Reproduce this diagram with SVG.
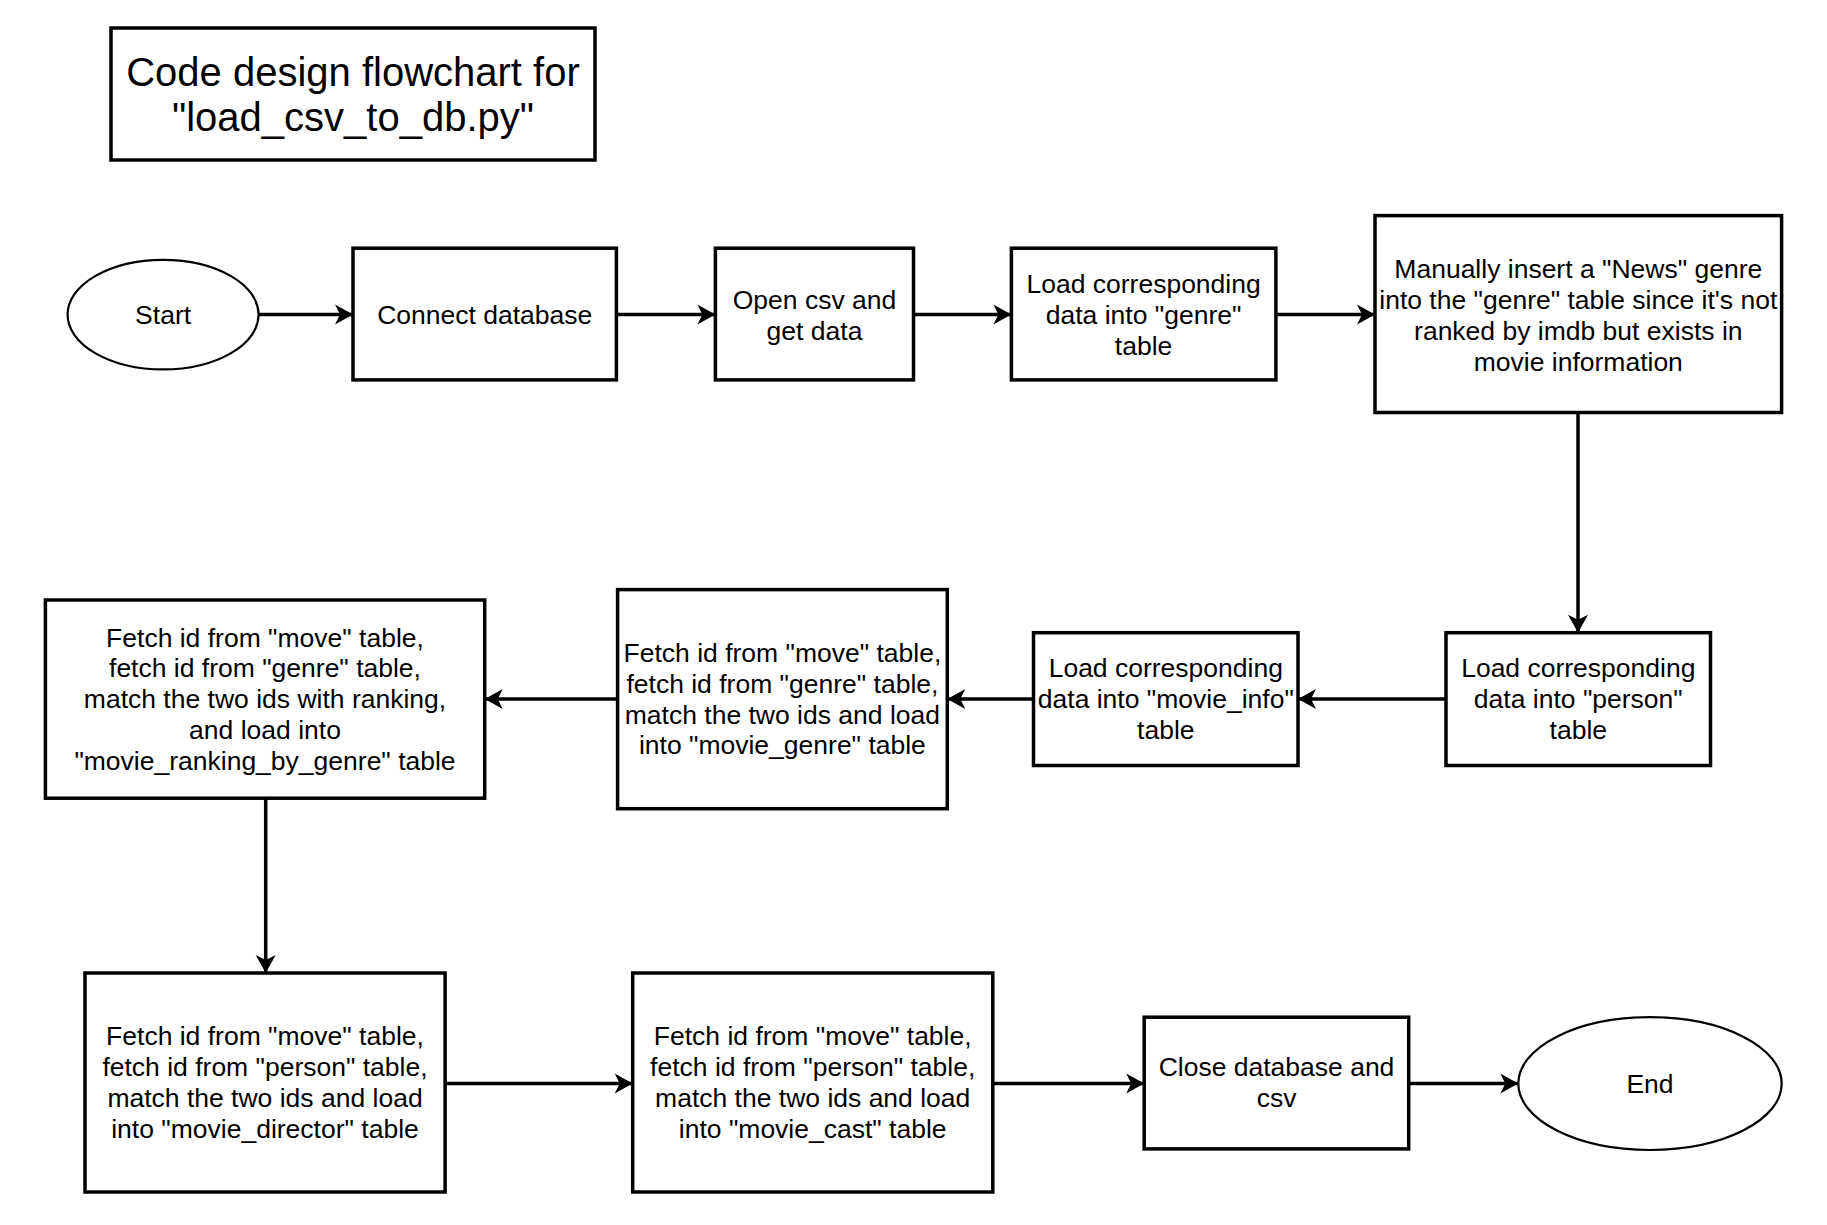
<svg xmlns="http://www.w3.org/2000/svg" width="1827" height="1225" viewBox="0 0 1827 1225">
<style>
.box{fill:#fff;stroke:#000;stroke-width:3.5}
.ell{fill:#fff;stroke:#000;stroke-width:2.2}
.t{font-family:"Liberation Sans",Arial,sans-serif;font-size:26.5px;fill:#000;text-anchor:middle;dominant-baseline:central}
.title{font-size:40px}
.c{stroke:#000;stroke-width:3.5;fill:none;marker-end:url(#arr)}
</style>
<defs>
<marker id="arr" markerUnits="userSpaceOnUse" markerWidth="20" markerHeight="22" refX="18" refY="10" orient="auto" overflow="visible">
<path d="M0,0 L18,10 L0,20 L5,10 Z" fill="#000"/>
</marker>
</defs>
<rect width="1827" height="1225" fill="#fff"/>
<g id="title">
<rect class="box" x="111" y="28" width="484" height="132"/>
<text class="t title" x="353" y="72">Code design flowchart for</text>
<text class="t title" x="353" y="116.5">"load_csv_to_db.py"</text>
</g>
<g id="connectors">
<line class="c" x1="258.6" y1="314.6" x2="353" y2="314.6"/>
<line class="c" x1="616.4" y1="314.6" x2="715.4" y2="314.6"/>
<line class="c" x1="913.5" y1="314.6" x2="1011.4" y2="314.6"/>
<line class="c" x1="1275.9" y1="314.6" x2="1375" y2="314.6"/>
<line class="c" x1="1578" y1="412.5" x2="1578" y2="632.7"/>
<line class="c" x1="1446" y1="699.1" x2="1298" y2="699.1"/>
<line class="c" x1="1033.5" y1="699.1" x2="947.3" y2="699.1"/>
<line class="c" x1="617.6" y1="699.1" x2="484.7" y2="699.1"/>
<line class="c" x1="265.7" y1="798.2" x2="265.7" y2="973"/>
<line class="c" x1="445.1" y1="1083.6" x2="632.7" y2="1083.6"/>
<line class="c" x1="992.8" y1="1083.6" x2="1144.2" y2="1083.6"/>
<line class="c" x1="1408.7" y1="1083.6" x2="1518.3" y2="1083.6"/>
</g>
<g id="start">
<ellipse class="ell" cx="163.1" cy="314.6" rx="95.5" ry="54.8"/>
<text class="t" x="163.1" y="314.6">Start</text>
</g>
<g id="connect">
<rect class="box" x="353" y="248.2" width="263.4" height="131.7"/>
<text class="t" x="484.7" y="314.6">Connect database</text>
</g>
<g id="opencsv">
<rect class="box" x="715.4" y="248.2" width="198.1" height="131.7"/>
<text class="t" x="814.5" y="299.5">Open csv and</text>
<text class="t" x="814.5" y="330.9">get data</text>
</g>
<g id="loadgenre">
<rect class="box" x="1011.4" y="248.2" width="264.5" height="131.7"/>
<text class="t" x="1143.6" y="284.3">Load corresponding</text>
<text class="t" x="1143.6" y="314.6">data into "genre"</text>
<text class="t" x="1143.6" y="346.1">table</text>
</g>
<g id="manual">
<rect class="box" x="1375" y="215.6" width="406.6" height="196.9"/>
<text class="t" x="1578.3" y="269.2">Manually insert a "News" genre</text>
<text class="t" x="1578.3" y="299.5">into the "genre" table since it's not</text>
<text class="t" x="1578.3" y="330.9">ranked by imdb but exists in</text>
<text class="t" x="1578.3" y="362.4">movie information</text>
</g>
<g id="loadperson">
<rect class="box" x="1446" y="632.7" width="264.5" height="132.8"/>
<text class="t" x="1578.3" y="668.3">Load corresponding</text>
<text class="t" x="1578.3" y="699.1">data into "person"</text>
<text class="t" x="1578.3" y="729.9">table</text>
</g>
<g id="loadmovieinfo">
<rect class="box" x="1033.5" y="632.7" width="264.5" height="132.8"/>
<text class="t" x="1165.8" y="668.3">Load corresponding</text>
<text class="t" x="1165.8" y="699.1">data into "movie_info"</text>
<text class="t" x="1165.8" y="729.9">table</text>
</g>
<g id="moviegenre">
<rect class="box" x="617.6" y="589.6" width="329.7" height="219.1"/>
<text class="t" x="782.4" y="652.9">Fetch id from "move" table,</text>
<text class="t" x="782.4" y="683.7">fetch id from "genre" table,</text>
<text class="t" x="782.4" y="714.5">match the two ids and load</text>
<text class="t" x="782.4" y="745.3">into "movie_genre" table</text>
</g>
<g id="ranking">
<rect class="box" x="45.4" y="600" width="439.3" height="198.2"/>
<text class="t" x="265" y="637.5">Fetch id from "move" table,</text>
<text class="t" x="265" y="668.3">fetch id from "genre" table,</text>
<text class="t" x="265" y="699.1">match the two ids with ranking,</text>
<text class="t" x="265" y="729.9">and load into</text>
<text class="t" x="265" y="760.7">"movie_ranking_by_genre" table</text>
</g>
<g id="director">
<rect class="box" x="85" y="973" width="360.1" height="219"/>
<text class="t" x="265" y="1036.3">Fetch id from "move" table,</text>
<text class="t" x="265" y="1067.1">fetch id from "person" table,</text>
<text class="t" x="265" y="1097.9">match the two ids and load</text>
<text class="t" x="265" y="1128.7">into "movie_director" table</text>
</g>
<g id="cast">
<rect class="box" x="632.7" y="973" width="360.1" height="219"/>
<text class="t" x="812.7" y="1036.3">Fetch id from "move" table,</text>
<text class="t" x="812.7" y="1067.1">fetch id from "person" table,</text>
<text class="t" x="812.7" y="1097.9">match the two ids and load</text>
<text class="t" x="812.7" y="1128.7">into "movie_cast" table</text>
</g>
<g id="close">
<rect class="box" x="1144.2" y="1017.2" width="264.5" height="131.7"/>
<text class="t" x="1276.5" y="1067.1">Close database and</text>
<text class="t" x="1276.5" y="1097.9">csv</text>
</g>
<g id="end">
<ellipse class="ell" cx="1650" cy="1083.6" rx="131.7" ry="66.4"/>
<text class="t" x="1650" y="1083.6">End</text>
</g>
</svg>
